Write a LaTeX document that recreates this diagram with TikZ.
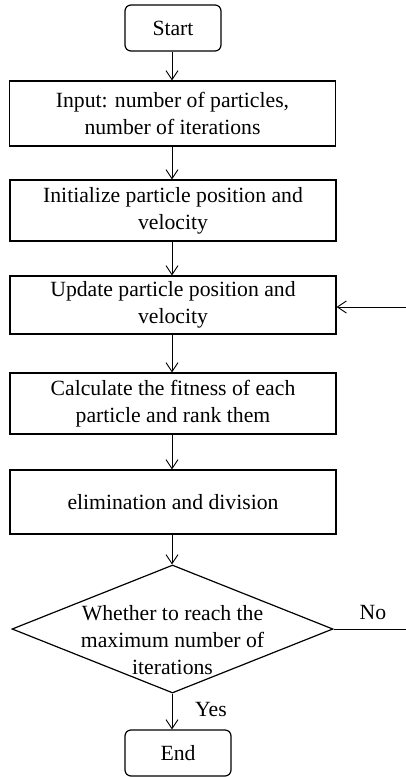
\documentclass[tikz,border=0pt]{standalone}
\usepackage{fontspec}
\setmainfont{Liberation Serif}
\usetikzlibrary{arrows.meta,shapes.geometric}
\begin{document}
\begin{tikzpicture}[x=1pt,y=-1pt,
  txt/.style={align=center, inner sep=0pt, font=\fontsize{21.7}{27}\selectfont},
  box/.style={txt, draw, line width=1.2pt, minimum width=326pt},
  term/.style={txt, draw, line width=1.2pt, rounded corners=6pt},
  arr/.style={-{Straight Barb[length=9pt,width=12pt]}, line width=0.9pt},
  plain/.style={line width=0.9pt}]
\useasboundingbox (0,0) rectangle (406,777);
\node[term, minimum width=96pt, minimum height=46pt] (start) at (173,28) {Start};
\node[box, minimum height=65pt] (input) at (172.5,113.5) {Input: number of particles,\\number of iterations};
\node[box, minimum height=61pt] (init) at (173,210.5) {Initialize particle position and\\velocity};
\node[box, minimum height=58pt] (update) at (173,305) {Update particle position and\\velocity};
\node[box, minimum height=61pt] (calc) at (173,403.5) {Calculate the fitness of each\\particle and rank them};
\node[box, minimum height=64pt] (elim) at (173,502) {elimination and division};
\node[diamond, draw, line width=1.2pt, minimum width=321pt, minimum height=128pt, inner sep=0pt] (dec) at (172.5,629) {};
\node[txt] (dectext) at (172.5,640) {Whether to reach the\\maximum number of\\iterations};
\node[term, minimum width=106pt, minimum height=46pt] (end) at (178,753) {End};
\node[txt] (yes) at (211,709) {Yes};
\node[txt] (no) at (373,612) {No};
\coordinate (fb) at (406,307);
\coordinate (noend) at (406,629);
\draw[arr] (start.south -| 172,0) -- (input.north -| 172,0);
\draw[arr] (input.south -| 172,0) -- (init.north -| 172,0);
\draw[arr] (init.south -| 172,0) -- (update.north -| 172,0);
\draw[arr] (update.south -| 172,0) -- (calc.north -| 172,0);
\draw[arr] (calc.south -| 172,0) -- (elim.north -| 172,0);
\draw[arr] (elim.south -| 172,0) -- (dec.north -| 172,0);
\draw[arr] (dec.south -| 172,0) -- (end.north -| 172,0);
\draw[arr] (fb) -- (fb -| update.east);
\draw[plain] (dec.east) -- (noend);
\end{tikzpicture}
\end{document}
